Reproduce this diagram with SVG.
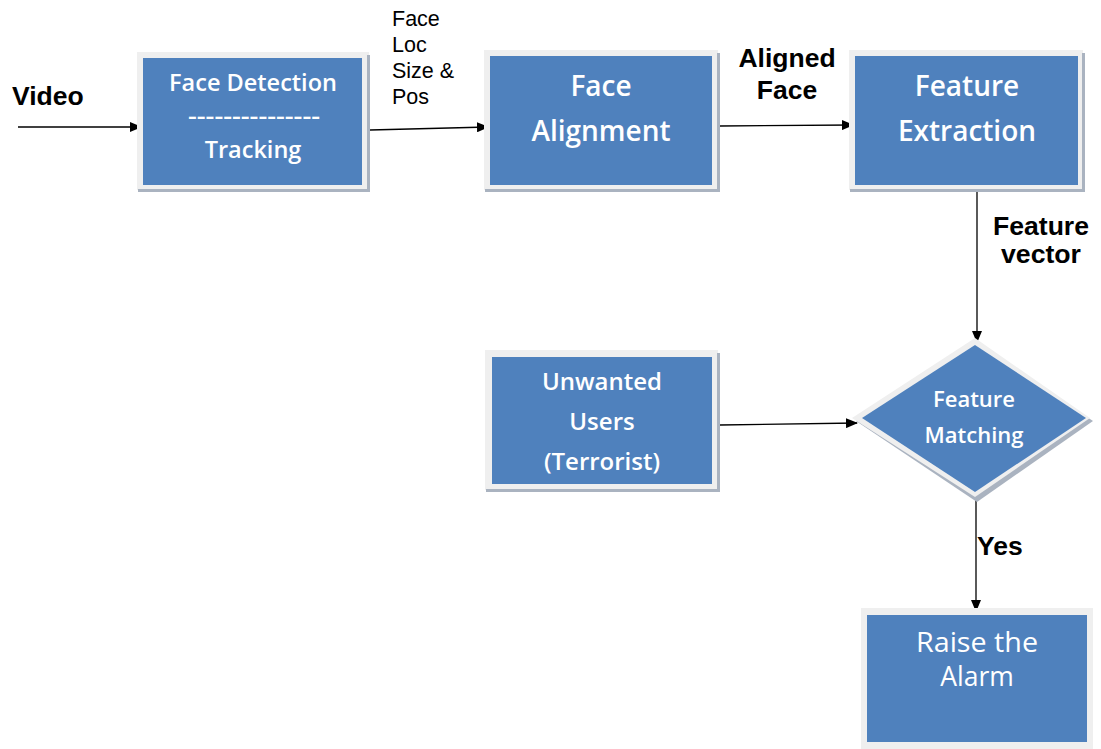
<svg xmlns="http://www.w3.org/2000/svg" width="1101" height="749" viewBox="0 0 1101 749">
<style>
.frame{fill:#efefef;}
.shadow{fill:#aab3c0;}
.blue{fill:#4f81bd;}
.wt{font-family:"Open Sans","DejaVu Sans",sans-serif;font-weight:600;fill:#ffffff;text-anchor:middle;}
.bk{font-family:"Liberation Sans",Arial,sans-serif;font-weight:bold;fill:#000000;}
.ln{stroke:#000;stroke-width:1.3;fill:none;}
</style>
<defs>
<marker id="ah" markerWidth="12" markerHeight="10" refX="11" refY="5" orient="auto" markerUnits="userSpaceOnUse">
<path d="M0,0 L12,5 L0,10 Z" fill="#000"/>
</marker>
</defs>
<rect width="1101" height="749" fill="#ffffff"/>

<g id="connectors">
<line class="ln" x1="18" y1="127" x2="141" y2="127" marker-end="url(#ah)"/>
<line class="ln" x1="370" y1="130" x2="488" y2="127" marker-end="url(#ah)"/>
<line class="ln" x1="720" y1="126" x2="853" y2="125" marker-end="url(#ah)"/>
<line class="ln" x1="977" y1="192" x2="977" y2="342" marker-end="url(#ah)"/>
<line class="ln" x1="720" y1="425" x2="857" y2="423" marker-end="url(#ah)"/>
<line class="ln" x1="976" y1="500" x2="976" y2="611" marker-end="url(#ah)"/>
</g>

<g id="labels">
<text class="bk" x="12" y="105" font-size="26.5">Video</text>
<g font-family="Liberation Sans,Arial,sans-serif" font-size="21.5" fill="#000" style="font-weight:500">
<text x="392" y="26">Face</text>
<text x="392" y="52">Loc</text>
<text x="392" y="78">Size &amp;</text>
<text x="392" y="104">Pos</text>
</g>
<text class="bk" x="787" y="67" font-size="26.5" text-anchor="middle">Aligned</text>
<text class="bk" x="787" y="99" font-size="26.5" text-anchor="middle">Face</text>
<text class="bk" x="1041" y="235" font-size="25" text-anchor="middle" textLength="96" lengthAdjust="spacingAndGlyphs">Feature</text>
<text class="bk" x="1041" y="263" font-size="25" text-anchor="middle" textLength="80" lengthAdjust="spacingAndGlyphs">vector</text>
<text class="bk" x="977" y="555" font-size="26.5">Yes</text>
</g>

<g id="face-detection">
<rect class="frame" x="137" y="52" width="232" height="138"/>
<rect class="shadow" x="138" y="189" width="232" height="3"/>
<rect class="shadow" x="367" y="55" width="3" height="137"/>
<rect class="blue" x="143" y="58" width="219" height="127"/>
<text class="wt" x="253" y="91" font-size="23.5">Face Detection</text>
<text class="wt" x="254" y="124" font-size="23.5" textLength="132" lengthAdjust="spacingAndGlyphs">---------------</text>
<text class="wt" x="253" y="158" font-size="23.5">Tracking</text>
</g>

<g id="face-alignment">
<rect class="frame" x="484" y="50" width="234" height="140"/>
<rect class="shadow" x="485" y="189" width="235" height="3"/>
<rect class="shadow" x="717" y="53" width="3" height="139"/>
<rect class="blue" x="490" y="56" width="222" height="129"/>
<text class="wt" x="601" y="96" font-size="28">Face</text>
<text class="wt" x="601" y="141" font-size="28">Alignment</text>
</g>

<g id="feature-extraction">
<rect class="frame" x="849" y="50" width="234" height="140"/>
<rect class="shadow" x="850" y="189" width="235" height="3"/>
<rect class="shadow" x="1082" y="53" width="3" height="139"/>
<rect class="blue" x="855" y="56" width="223" height="129"/>
<text class="wt" x="967" y="96" font-size="28">Feature</text>
<text class="wt" x="967" y="141" font-size="28">Extraction</text>
</g>

<g id="unwanted-users">
<rect class="frame" x="485" y="350" width="233" height="140"/>
<rect class="shadow" x="486" y="489" width="234" height="3"/>
<rect class="shadow" x="717" y="353" width="3" height="139"/>
<rect class="blue" x="492" y="357" width="220" height="127"/>
<text class="wt" x="602" y="390" font-size="24">Unwanted</text>
<text class="wt" x="602" y="430" font-size="24">Users</text>
<text class="wt" x="602" y="470" font-size="24">(Terrorist)</text>
</g>

<g id="feature-matching">
<polygon class="shadow" points="977,343 1093,421 977,502 856,421"/>
<polygon class="frame" points="975,338 1090,418 975,497 852,418"/>
<polygon class="blue" points="975,345 1086,418 975,492 862,418"/>
<text class="wt" x="974" y="407" font-size="22">Feature</text>
<text class="wt" x="974" y="443" font-size="22">Matching</text>
</g>

<g id="raise-alarm">
<rect class="frame" x="861" y="608" width="232" height="141"/>
<rect class="blue" x="867" y="615" width="220" height="127"/>
<text class="wt" x="977" y="652" font-size="26.5" style="font-weight:500" textLength="122" lengthAdjust="spacingAndGlyphs">Raise the</text>
<text class="wt" x="977" y="686" font-size="26.5" style="font-weight:500">Alarm</text>
</g>
</svg>
